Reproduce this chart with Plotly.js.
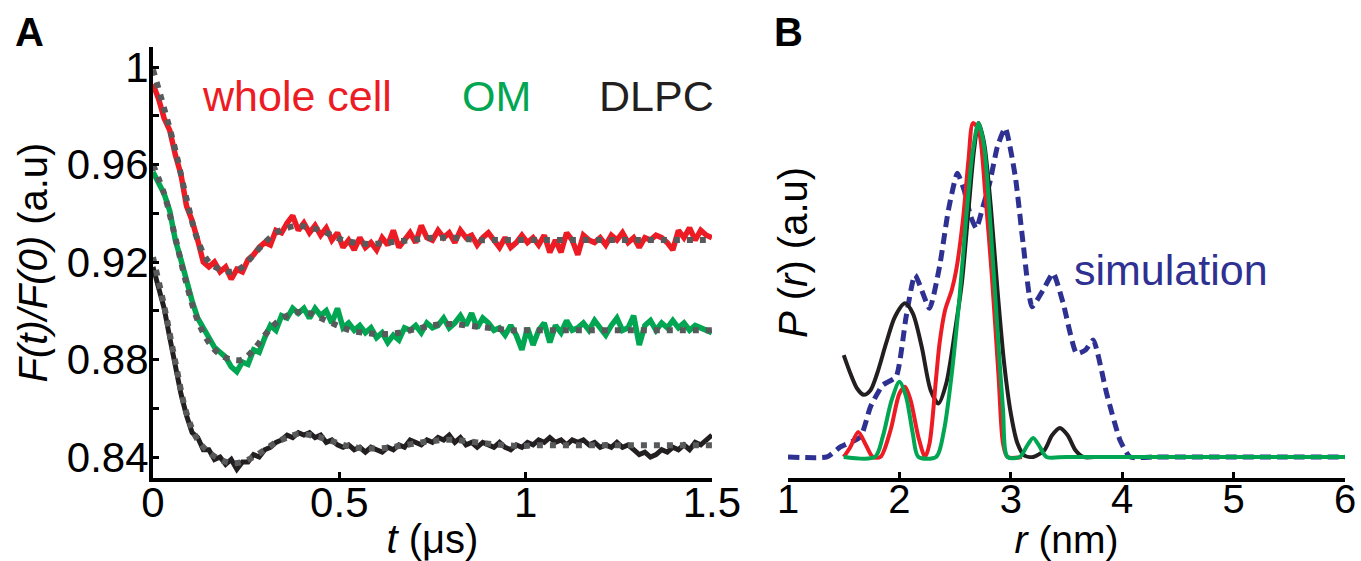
<!DOCTYPE html>
<html><head><meta charset="utf-8">
<script src="https://cdn.plot.ly/plotly-3.0.1.min.js"></script>
<style>html,body{margin:0;padding:0;background:#fff}#chart{width:1361px;height:561px}</style>
</head><body><div id="chart"></div>
<script>
// ---------- Panel A: time traces ----------
const tData = [0,0.015,0.03,0.045,0.06,0.075,0.09,0.105,0.12,0.135,0.15,0.165,0.18,0.195,0.21,0.225,0.24,0.255,0.27,0.285,0.3,0.315,0.33,0.345,0.36,0.375,0.39,0.405,0.42,0.435,0.45,0.465,0.48,0.495,0.51,0.525,0.54,0.555,0.57,0.585,0.6,0.615,0.63,0.645,0.66,0.675,0.69,0.705,0.72,0.735,0.75,0.765,0.78,0.795,0.81,0.825,0.84,0.855,0.87,0.885,0.9,0.915,0.93,0.945,0.96,0.975,0.99,1.005,1.02,1.035,1.05,1.065,1.08,1.095,1.11,1.125,1.14,1.155,1.17,1.185,1.2,1.215,1.23,1.245,1.26,1.275,1.29,1.305,1.32,1.335,1.35,1.365,1.38,1.395,1.41,1.425,1.44,1.455,1.47,1.485,1.5];
const wholeCell = [0.993,0.987,0.979,0.974,0.964,0.956,0.943,0.937,0.929,0.920,0.918,0.920,0.916,0.918,0.913,0.917,0.916,0.921,0.923,0.926,0.928,0.927,0.933,0.932,0.936,0.939,0.933,0.936,0.932,0.935,0.931,0.934,0.929,0.932,0.926,0.929,0.925,0.930,0.926,0.928,0.925,0.930,0.927,0.933,0.926,0.929,0.932,0.928,0.935,0.930,0.929,0.933,0.930,0.932,0.928,0.933,0.930,0.931,0.927,0.930,0.932,0.929,0.926,0.930,0.926,0.928,0.931,0.928,0.930,0.927,0.931,0.924,0.929,0.924,0.932,0.929,0.923,0.931,0.929,0.928,0.930,0.927,0.931,0.929,0.932,0.928,0.930,0.926,0.930,0.929,0.931,0.930,0.928,0.925,0.933,0.930,0.934,0.929,0.933,0.931,0.930];
const omData = [0.957,0.953,0.948,0.941,0.929,0.921,0.912,0.904,0.897,0.893,0.888,0.885,0.883,0.881,0.877,0.875,0.879,0.878,0.884,0.883,0.889,0.894,0.892,0.898,0.897,0.901,0.899,0.901,0.897,0.901,0.898,0.900,0.895,0.901,0.893,0.895,0.892,0.894,0.891,0.893,0.889,0.891,0.887,0.890,0.888,0.893,0.892,0.894,0.891,0.895,0.893,0.894,0.897,0.893,0.895,0.898,0.894,0.899,0.893,0.897,0.895,0.892,0.893,0.890,0.894,0.890,0.884,0.893,0.886,0.892,0.895,0.887,0.894,0.891,0.896,0.892,0.893,0.895,0.892,0.896,0.893,0.890,0.894,0.897,0.892,0.893,0.898,0.886,0.894,0.896,0.892,0.895,0.893,0.896,0.893,0.895,0.892,0.894,0.893,0.892,0.891];
const dlpcData = [0.918,0.909,0.901,0.889,0.877,0.866,0.857,0.850,0.848,0.843,0.843,0.839,0.840,0.837,0.839,0.835,0.838,0.838,0.841,0.840,0.843,0.844,0.846,0.847,0.849,0.848,0.850,0.849,0.850,0.848,0.849,0.846,0.847,0.845,0.844,0.845,0.843,0.844,0.842,0.844,0.843,0.842,0.844,0.843,0.845,0.844,0.847,0.846,0.845,0.847,0.846,0.848,0.847,0.849,0.846,0.848,0.845,0.846,0.844,0.846,0.845,0.844,0.846,0.844,0.843,0.845,0.844,0.846,0.845,0.847,0.846,0.848,0.846,0.847,0.845,0.847,0.846,0.847,0.845,0.846,0.844,0.845,0.844,0.846,0.844,0.845,0.843,0.841,0.842,0.840,0.841,0.843,0.842,0.844,0.843,0.845,0.843,0.846,0.845,0.847,0.849];

const tFit = [0,0.03,0.06,0.09,0.12,0.15,0.18,0.21,0.24,0.27,0.3,0.33,0.36,0.39,0.42,0.45,0.48,0.51,0.54,0.57,0.6,0.63,0.66,0.69,0.72,0.75,0.78,0.81,0.84,0.87,0.9,0.93,0.96,0.99,1.02,1.05,1.08,1.11,1.14,1.17,1.2,1.23,1.26,1.29,1.32,1.35,1.38,1.41,1.44,1.47,1.5];
const wholeCellFit = [0.999,0.983,0.966,0.946,0.929,0.920,0.917,0.916,0.918,0.923,0.928,0.932,0.934,0.935,0.934,0.933,0.931,0.929,0.928,0.9275,0.9275,0.928,0.9285,0.929,0.9295,0.930,0.930,0.930,0.9295,0.929,0.929,0.929,0.929,0.929,0.929,0.929,0.929,0.929,0.929,0.929,0.929,0.929,0.929,0.929,0.929,0.929,0.929,0.929,0.929,0.929,0.929];
const omFit = [0.960,0.948,0.930,0.911,0.896,0.887,0.882,0.880,0.880,0.884,0.890,0.895,0.898,0.8995,0.899,0.897,0.895,0.893,0.8915,0.891,0.8905,0.8905,0.891,0.892,0.893,0.894,0.8945,0.8945,0.894,0.8935,0.893,0.8925,0.892,0.892,0.892,0.892,0.892,0.892,0.892,0.892,0.892,0.892,0.892,0.892,0.892,0.892,0.892,0.892,0.892,0.892,0.892];
const dlpcFit = [0.922,0.902,0.879,0.858,0.847,0.842,0.839,0.8375,0.838,0.840,0.843,0.846,0.848,0.8495,0.849,0.848,0.8465,0.845,0.844,0.8435,0.8435,0.8438,0.8445,0.8452,0.846,0.8465,0.847,0.847,0.8465,0.846,0.8455,0.845,0.8447,0.8445,0.8448,0.8448,0.8448,0.8448,0.8448,0.8448,0.8448,0.8448,0.8448,0.8448,0.8448,0.8448,0.8448,0.8448,0.8448,0.8448,0.8448];

const tTickVals = [0, 0.5, 1, 1.5];
const tTickText = ['0', '0.5', '1', '1.5'];
const fTickVals = [0.84, 0.88, 0.92, 0.96, 1];
const fTickText = ['0.84', '0.88', '0.92', '0.96', '1'];
const fMinorVals = [0.86, 0.90, 0.94, 0.98];

// ---------- Panel B: distance distributions ----------
const rSim = [1.0,1.35,1.47,1.65,1.74,1.85,1.97,2.06,2.14,2.27,2.36,2.44,2.52,2.58,2.64,2.69,2.75,2.81,2.88,2.95,3.04,3.11,3.19,3.29,3.38,3.47,3.59,3.67,3.74,3.86,3.98,4.07,4.3,4.8,5.4,6.0];
const pSim = [0,0,0.03,0.06,0.15,0.215,0.24,0.42,0.545,0.445,0.57,0.74,0.85,0.80,0.72,0.685,0.75,0.82,0.93,0.985,0.84,0.64,0.45,0.50,0.55,0.46,0.31,0.32,0.35,0.19,0.05,0,0,0,0,0];
const rDlpc = [1.5,1.56,1.62,1.68,1.74,1.8,1.88,1.96,2.05,2.12,2.2,2.28,2.35,2.42,2.5,2.56,2.62,2.67,2.71,2.76,2.82,2.88,2.94,3.0,3.06,3.12,3.2,3.3,3.37,3.44,3.51,3.58,3.65,3.75];
const pDlpc = [0.305,0.25,0.205,0.186,0.20,0.25,0.34,0.42,0.46,0.43,0.33,0.20,0.16,0.22,0.38,0.52,0.74,0.92,1.0,0.94,0.75,0.5,0.28,0.13,0.04,0.005,0,0.02,0.065,0.087,0.065,0.02,0,0];
const rWhole = [1.5,1.56,1.63,1.7,1.76,1.83,1.92,2.0,2.05,2.1,2.17,2.23,2.27,2.33,2.36,2.41,2.47,2.51,2.57,2.62,2.66,2.71,2.77,2.83,2.89,2.93,2.97,3.1];
const pWhole = [0,0.03,0.075,0.035,0,0,0.08,0.19,0.21,0.17,0.06,0,0.04,0.24,0.34,0.44,0.50,0.56,0.71,0.89,1.0,0.98,0.79,0.54,0.24,0.04,0,0];
const rOm = [1.5,1.78,1.85,1.93,2.0,2.06,2.12,2.17,2.33,2.4,2.47,2.54,2.6,2.66,2.71,2.76,2.82,2.88,2.93,2.97,3.08,3.14,3.2,3.26,3.32,3.5,4.0,4.5,5.0,5.5,6.0];
const pOm = [0,0,0.06,0.17,0.225,0.18,0.07,0,0,0.08,0.25,0.48,0.72,0.92,1.0,0.93,0.68,0.38,0.14,0,0,0.03,0.057,0.03,0,0,0,0,0,0,0];

const rTickVals = [1, 2, 3, 4, 5, 6];

const RED = '#ED1C24', GREEN = '#00A651', BLACK = '#231F20', GRAY = '#58595B', BLUE = '#2E3192';
const FONT = 'Liberation Sans, Arial, sans-serif';

const traces = [
  {x: tData, y: wholeCell, mode: 'lines', line: {color: RED, width: 5.5}, xaxis: 'x', yaxis: 'y', name: 'whole cell'},
  {x: tData, y: omData, mode: 'lines', line: {color: GREEN, width: 5.5}, xaxis: 'x', yaxis: 'y', name: 'OM'},
  {x: tData, y: dlpcData, mode: 'lines', line: {color: BLACK, width: 5}, xaxis: 'x', yaxis: 'y', name: 'DLPC'},
  {x: tFit, y: wholeCellFit, mode: 'lines', line: {color: GRAY, width: 6, dash: '6px,7px', shape: 'spline'}, xaxis: 'x', yaxis: 'y', name: 'fit whole cell'},
  {x: tFit, y: omFit, mode: 'lines', line: {color: GRAY, width: 6, dash: '6px,7px', shape: 'spline'}, xaxis: 'x', yaxis: 'y', name: 'fit OM'},
  {x: tFit, y: dlpcFit, mode: 'lines', line: {color: GRAY, width: 6, dash: '6px,7px', shape: 'spline'}, xaxis: 'x', yaxis: 'y', name: 'fit DLPC'},
  {x: rSim, y: pSim, mode: 'lines', line: {color: BLUE, width: 5, dash: '11px,6px', shape: 'spline', smoothing: 0.5}, xaxis: 'x2', yaxis: 'y2', name: 'simulation'},
  {x: rDlpc, y: pDlpc, mode: 'lines', line: {color: BLACK, width: 4, shape: 'spline', smoothing: 0.8}, xaxis: 'x2', yaxis: 'y2', name: 'DLPC'},
  {x: rWhole, y: pWhole, mode: 'lines', line: {color: RED, width: 4, shape: 'spline', smoothing: 0.8}, xaxis: 'x2', yaxis: 'y2', name: 'whole cell'},
  {x: rOm, y: pOm, mode: 'lines', line: {color: GREEN, width: 4, shape: 'spline', smoothing: 0.8}, xaxis: 'x2', yaxis: 'y2', name: 'OM'}
];

const axisCommon = {showgrid: false, zeroline: false, showline: true, linecolor: '#000', linewidth: 4,
  ticks: 'inside', ticklen: 6, tickwidth: 3, tickcolor: '#000', tickfont: {family: FONT, size: 42, color: '#000'}};

const layout = {
  width: 1361, height: 561,
  margin: {l: 0, r: 0, t: 0, b: 0},
  paper_bgcolor: '#fff', plot_bgcolor: 'rgba(0,0,0,0)',
  showlegend: false,
  font: {family: FONT, color: '#000'},
  xaxis: Object.assign({}, axisCommon, {domain: [0.1124, 0.5231], range: [0, 1.5], anchor: 'y',
    tickvals: tTickVals, ticktext: tTickText, ticklabelstandoff: -15,
    title: {text: '<i>t</i> (μs)', font: {family: FONT, size: 40, color: '#000'}, standoff: 4}}),
  yaxis: Object.assign({}, axisCommon, {domain: [0.148, 0.916], range: [0.8314, 1.0082], anchor: 'x',
    tickvals: fTickVals, ticktext: fTickText, ticklabelstandoff: -8,
    minor: {tickvals: fMinorVals, ticks: 'inside', ticklen: 6, tickwidth: 3, tickcolor: '#000'},
    title: {text: '<i>F(t)/F(0)</i> (a.u)', font: {family: FONT, size: 40, color: '#000'}, standoff: 8}}),
  xaxis2: Object.assign({}, axisCommon, {domain: [0.579, 0.9883], range: [1, 6], anchor: 'y2',
    tickvals: rTickVals, ticklabelstandoff: -17, tickfont: {family: FONT, size: 40, color: '#000'},
    title: {text: '<i>r</i> (nm)', font: {family: FONT, size: 39, color: '#000'}, standoff: 4}}),
  yaxis2: {domain: [0.148, 0.916], range: [-0.063, 1.2275], anchor: 'x2', visible: false,
    showgrid: false, zeroline: false, showline: false, showticklabels: false},
  annotations: [
    {text: '<b>A</b>', xref: 'paper', yref: 'paper', x: 0.022, y: 0.943, xanchor: 'center', yanchor: 'middle', showarrow: false, font: {family: FONT, size: 40, color: '#000'}},
    {text: '<b>B</b>', xref: 'paper', yref: 'paper', x: 0.579, y: 0.943, xanchor: 'center', yanchor: 'middle', showarrow: false, font: {family: FONT, size: 40, color: '#000'}},
    {text: 'whole cell', xref: 'x', yref: 'y', x: 0.386, y: 0.988, xanchor: 'center', yanchor: 'middle', showarrow: false, font: {family: FONT, size: 43, color: RED}},
    {text: 'OM', xref: 'x', yref: 'y', x: 0.923, y: 0.988, xanchor: 'center', yanchor: 'middle', showarrow: false, font: {family: FONT, size: 43, color: GREEN}},
    {text: 'DLPC', xref: 'x', yref: 'y', x: 1.352, y: 0.988, xanchor: 'center', yanchor: 'middle', showarrow: false, font: {family: FONT, size: 43, color: BLACK}},
    {text: 'simulation', xref: 'x2', yref: 'y2', x: 4.435, y: 0.56, xanchor: 'center', yanchor: 'middle', showarrow: false, font: {family: FONT, size: 43, color: BLUE}},
    {text: '<i>P</i> (<i>r</i>) (a.u)', xref: 'paper', yref: 'paper', x: 0.5827, y: 0.549, xanchor: 'center', yanchor: 'middle', textangle: -90, showarrow: false, font: {family: FONT, size: 40, color: '#000'}}
  ]
};

Plotly.newPlot('chart', traces, layout, {displayModeBar: false, staticPlot: true});
</script>
</body></html>
